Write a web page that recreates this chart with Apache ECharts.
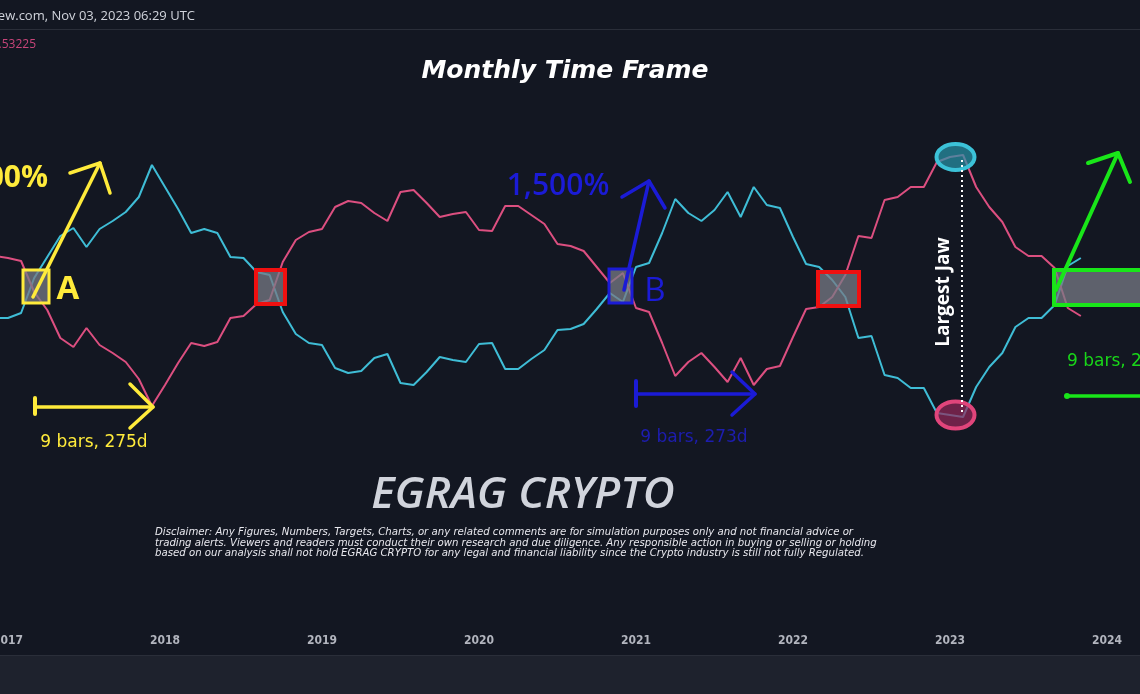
<!DOCTYPE html>
<html>
<head>
<meta charset="utf-8">
<style>
  html, body { margin:0; padding:0; background:#131722; }
  #chart { width:1140px; height:694px; }
</style>
<script src="https://cdn.jsdelivr.net/npm/echarts@6/dist/echarts.min.js"></script>
</head>
<body>
<div id="chart"></div>
<script>
// Monthly readings, first point = Dec 2016, one value per month to Nov 2023
const startYear = 2016, startMonth = 12;
const cyanValues = [-32,-32,-27,8,29,50,58,39,57,65,74,89,121,99,77,53,57,53,29,28,14,11,-26,-48,-57,-59,-82,-87,-85,-72,-68,-97,-99,-86,-71,-74,-76,-58,-57,-83,-83,-73,-64,-44,-43,-38,-23,-7,-16,19,23,53,87,73,65,76,94,69,99,81,78,49,22,19,6,-11,-52,-50,-89,-92,-102,-102,-127,-129,-131,-101,-81,-67,-41,-32,-32,-19,20,28];
const pinkValues = [30,28,25,-6,-24,-52,-61,-42,-59,-67,-76,-93,-120,-99,-77,-57,-60,-56,-32,-30,-18,-14,24,46,54,57,79,85,83,73,65,94,96,83,69,72,74,56,55,80,80,71,62,42,40,35,19,3,13,-22,-26,-57,-90,-76,-67,-81,-96,-72,-99,-83,-80,-51,-23,-21,-11,11,50,48,86,89,99,99,124,129,131,99,79,64,39,30,30,18,-22,-30];
const yearTicks = [2017, 2018, 2019, 2020, 2021, 2022, 2023, 2024];

const disclaimer = [
  'Disclaimer: Any Figures, Numbers, Targets, Charts, or any related comments are for simulation purposes only and not financial advice or',
  'trading alerts. Viewers and readers must conduct their own research and due diligence. Any responsible action in buying or selling or holding',
  'based on our analysis shall not hold EGRAG CRYPTO for any legal and financial liability since the Crypto industry is still not fully Regulated.'
];

function monthX(i) { return startYear + (startMonth - 1 + i) / 12; }
const cyanData = cyanValues.map((v, i) => [monthX(i), v]);
const pinkData = pinkValues.map((v, i) => [monthX(i), v]);

const XMIN = 2017 - 8 / 157, XMAX = XMIN + 1140 / 157;

const chart = echarts.init(document.getElementById('chart'));
const GRAY = 'rgba(120,123,134,0.75)';
const Z = 50;
function rect(x, y, w, h, stroke, lw) {
  return { type:'rect', z:Z, shape:{x, y, width:w, height:h}, style:{fill:GRAY, stroke, lineWidth:lw} };
}
function pl(points, stroke, lw) {
  return { type:'polyline', z:Z, shape:{points}, style:{stroke, lineWidth:lw, fill:null, lineCap:'round', lineJoin:'round'} };
}
function txt(text, x, y, fill, font, align, extra) {
  return Object.assign({ type:'text', z:Z, x, y, style:{text, x:0, y:0, fill, font, align: align || 'left', verticalAlign:'middle'} }, extra || {});
}

const graphics = [
  // header
  { type:'rect', z:1, shape:{x:0, y:0, width:1140, height:29}, style:{fill:'#131722'} },
  { type:'line', z:2, shape:{x1:0, y1:29.5, x2:1140, y2:29.5}, style:{stroke:'#2a2e39', lineWidth:1} },
  txt('TradingView.com, Nov 03, 2023 06:29 UTC', 195, 16, '#d1d4dc', '13px "Open Sans", sans-serif', 'right'),
  txt('0.53225', 36, 45, '#c8457a', '12px "Open Sans", sans-serif', 'right'),
  // bottom band
  { type:'rect', z:1, shape:{x:0, y:655, width:1140, height:39}, style:{fill:'#1e222d'} },
  { type:'line', z:2, shape:{x1:0, y1:655.5, x2:1140, y2:655.5}, style:{stroke:'#2a2e39', lineWidth:1} },
  // title
  txt('Monthly Time Frame', 565, 71, '#ffffff', 'oblique bold 25px "DejaVu Sans", sans-serif', 'center'),
  // yellow A
  txt('1,300%', 48, 178, '#ffeb3b', 'bold 30px "Open Sans", sans-serif', 'right'),
  rect(23, 270, 26, 33, '#ffeb3b', 3),
  txt('A', 68, 290, '#ffeb3b', 'bold 33px "Open Sans", sans-serif', 'center'),
  pl([[33,297],[100,163]], '#ffeb3b', 3.5),
  pl([[70,173],[100,163],[110,193]], '#ffeb3b', 3.5),
  pl([[35,407],[153,407]], '#ffeb3b', 3.5),
  pl([[35,398],[35,414]], '#ffeb3b', 4),
  pl([[130,384],[153,407],[130,428]], '#ffeb3b', 3.5),
  txt('9 bars, 275d', 94, 443, '#ffeb3b', '17px "DejaVu Sans", sans-serif', 'center'),
  // red box 1
  rect(256, 270, 29, 34, '#f01010', 4),
  // blue B
  txt('1,500%', 558, 186, '#1b1bd6', '600 30px "Open Sans", sans-serif', 'center'),
  rect(609, 269, 23, 34, '#1b1bd6', 3),
  txt('B', 655, 292, '#1b1bd6', '33px "Open Sans", sans-serif', 'center'),
  pl([[624,290],[649,181]], '#1b1bd6', 3.5),
  pl([[622,197],[649,181],[665,208]], '#1b1bd6', 3.5),
  pl([[636,394],[755,394]], '#1b1bd6', 3.5),
  pl([[636,381],[636,406]], '#1b1bd6', 4),
  pl([[732,372],[755,394],[732,415]], '#1b1bd6', 3.5),
  txt('9 bars, 273d', 694, 438, '#1d1db0', '17px "DejaVu Sans", sans-serif', 'center'),
  // red box 2
  rect(818, 272, 41, 34, '#f01010', 4),
  // jaw
  { type:'ellipse', z:Z, shape:{cx:955.5, cy:157, rx:19, ry:13}, style:{fill:'rgba(40,150,170,0.7)', stroke:'#3cc2d8', lineWidth:4} },
  { type:'ellipse', z:Z, shape:{cx:955.5, cy:415, rx:19, ry:13.5}, style:{fill:'rgba(150,40,90,0.7)', stroke:'#e0457b', lineWidth:4} },
  { type:'line', z:Z+1, shape:{x1:962, y1:160, x2:962, y2:412}, style:{stroke:'#ffffff', lineWidth:2, lineDash:[2,3]} },
  txt('Largest Jaw', 944, 292, '#ffffff', 'bold 19px "Open Sans", sans-serif', 'center', {rotation: Math.PI/2}),
  // green
  rect(1054, 270, 100, 35, '#19e619', 4),
  pl([[1056,290],[1118,153]], '#19e619', 4),
  pl([[1088,163],[1118,153],[1130,182]], '#19e619', 4),
  txt('9 bars, 273d', 1067, 362, '#19d619', '17px "DejaVu Sans", sans-serif', 'left'),
  pl([[1067,396],[1140,396]], '#19e619', 3.5),
  { type:'circle', z:Z, shape:{cx:1067, cy:396, r:3}, style:{fill:'#19e619'} },
  // branding
  txt('EGRAG CRYPTO', 523, 495, '#d1d4dc', 'italic 600 44px "Open Sans", sans-serif', 'center')
];
disclaimer.forEach((line, i) => {
  graphics.push(txt(line, 155, 532 + i * 10.7, '#e8e8ee', 'italic 11.3px "Liberation Sans Narrow", "DejaVu Sans Condensed", sans-serif', 'left'));
});

chart.setOption({
  backgroundColor: '#131722',
  animation: false,
  grid: { left: 0, right: 0, top: 30, bottom: 74, containLabel: false, outerBoundsMode: 'none' },
  xAxis: {
    type: 'value', min: XMIN, max: XMAX,
    axisLine: { show: false }, axisTick: { show: false }, splitLine: { show: false },
    axisLabel: {
      customValues: yearTicks,
      formatter: v => String(Math.round(v)),
      color: '#b2b5be', fontSize: 12, fontWeight: 'bold',
      fontFamily: '"DejaVu Sans Condensed", sans-serif', margin: 15
    }
  },
  yAxis: { type: 'value', min: -334, max: 256, show: false },
  series: [
    { type: 'line', data: cyanData, symbol: 'none', z: 3, lineStyle: { color: '#3fbdd6', width: 2 } },
    { type: 'line', data: pinkData, symbol: 'none', z: 3, lineStyle: { color: '#dc4f80', width: 2 } }
  ],
  graphic: graphics
});
</script>
</body>
</html>
